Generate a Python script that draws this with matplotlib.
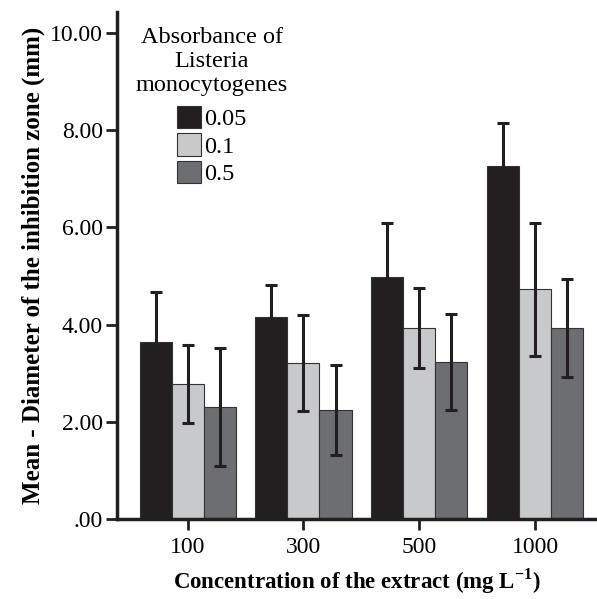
import numpy as np
import matplotlib.pyplot as plt

plt.rcParams['font.family'] = ['Liberation Serif', 'DejaVu Serif']
plt.rcParams['mathtext.fontset'] = 'custom'
plt.rcParams['mathtext.rm'] = 'Liberation Serif'
plt.rcParams['mathtext.bf'] = 'Liberation Serif:bold'

# data
concentrations = ["100", "300", "500", "1000"]
absorbances = ["0.05", "0.1", "0.5"]
means_005 = [3.65, 4.16, 4.98, 7.26]
means_01 = [2.78, 3.21, 3.93, 4.73]
means_05 = [2.31, 2.24, 3.23, 3.93]
err_005 = [1.02, 0.66, 1.11, 0.89]
err_01 = [0.81, 0.98, 0.82, 1.37]
err_05 = [1.21, 0.92, 0.98, 1.01]
ytick_labels = [".00", "2.00", "4.00", "6.00", "8.00", "10.00"]

colors = ["#231f20", "#c8c9ca", "#6d6e71"]
means = [means_005, means_01, means_05]
errs = [err_005, err_01, err_05]

fig = plt.figure(figsize=(5.97, 5.99), dpi=100)
ax = fig.add_axes([0.196, 0.1336, 0.804, 0.846])

x = np.arange(len(concentrations))
w = 0.277
for i in range(3):
    ax.bar(x + (i - 1) * w, means[i], w, color=colors[i], edgecolor="#333333",
           linewidth=0.8, label=absorbances[i],
           yerr=errs[i], error_kw=dict(ecolor="#231f20", elinewidth=2.2,
                                       capsize=4, capthick=2.2))

ax.set_xlim(-0.61, 3.535)
ax.set_ylim(0, 10.43)
ax.set_xticks(x)
ax.set_xticklabels(concentrations)
ax.set_yticks([0, 2, 4, 6, 8, 10])
ax.set_yticklabels(ytick_labels)
ax.tick_params(labelsize=17, width=2, length=8, color="#231f20")
ax.tick_params(axis="x", pad=5)
ax.tick_params(axis="y", pad=2)

for s in ["top", "right"]:
    ax.spines[s].set_visible(False)
for s in ["left", "bottom"]:
    ax.spines[s].set_linewidth(2.5)
    ax.spines[s].set_color("#231f20")

ax.set_xlabel(r"Concentration of the extract (mg L$^{\mathbf{-1}}$)", fontsize=16.5,
              fontweight="bold", labelpad=6)
ax.set_ylabel("Mean - Diameter of the inhibition zone (mm)", fontsize=18,
              fontweight="bold", labelpad=4)

leg = ax.legend(title="Absorbance of\nListeria\nmonocytogenes", frameon=False,
                fontsize=17.5, title_fontsize=17.5, handlelength=1.0,
                handleheight=1.05, handletextpad=0.1, labelspacing=0.12,
                loc="upper left", bbox_to_anchor=(0.003, 1.005), borderpad=0.2)
leg.get_title().set_multialignment("center")
leg.get_title().set_linespacing(1.2)
leg._legend_box.sep = 7  # a bit more room under the title

fig.savefig("out.png", dpi=100)
